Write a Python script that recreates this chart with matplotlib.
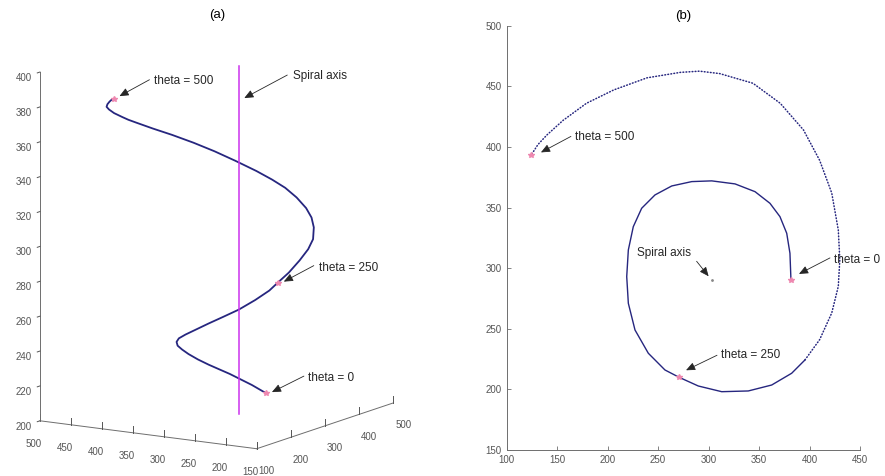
import matplotlib
matplotlib.use("Agg")
import matplotlib.pyplot as plt
from matplotlib.patches import FancyArrowPatch
from mpl_toolkits.mplot3d import proj3d

plt.rcParams["font.family"] = ["Liberation Sans", "DejaVu Sans"]

# spiral points, from theta = 0 to theta = 500
SPIRAL_X = [381.6, 380.6, 377.4, 370.7, 360.8, 346, 326.2, 303.1, 283.3, 263.5,
            246.9, 233.7, 225.4, 220.5, 218.9, 220.5, 227.1, 240.3, 256.8, 270.7,
            289.8, 313, 339.3, 362.5, 382.3, 395.5, 410, 422, 428.5, 430,
            428.5, 422, 410, 394, 371, 344, 311, 291, 272, 239,
            206, 179, 156, 140, 131, 124]
SPIRAL_Y = [290.3, 312.3, 328.8, 342.5, 353.5, 363.1, 369.5, 372, 371.4, 367.8,
            360.4, 349.4, 334.2, 315, 293, 271, 249, 229.8, 216, 210,
            202.8, 198.1, 198.7, 203.6, 213.3, 224.3, 241, 263, 285, 307,
            331.5, 362, 389, 414, 436, 452.5, 460.5, 462.5, 461.5, 457,
            447, 436, 422, 410, 402, 393]
SPIRAL_Z = [207, 210.7, 213.4, 216.3, 219, 222.3, 226.3, 230.8, 234.7, 238.4,
            242, 245.4, 248.8, 252.8, 257.5, 262.1, 266.9, 272.4, 277.4, 281.3,
            286.1, 291.8, 296.5, 300.5, 305.5, 309.8, 313.5, 317.8, 321.9, 325.5,
            329.4, 334.3, 339.3, 344.1, 349.1, 353.8, 358.9, 361.8, 364.6, 369.3,
            374, 377.8, 381.4, 384.4, 386.4, 388]
MARKED = [0, 19, 45]  # theta = 0, 250, 500

AXIS_X = [303, 303]
AXIS_Y = [290, 290]
AXIS_Z = [200, 400]

X3_TICKS = [100, 200, 300, 400, 500]
Y3_TICKS = [150, 200, 250, 300, 350, 400, 450, 500]
Z3_TICKS = [200, 220, 240, 260, 280, 300, 320, 340, 360, 380, 400]
XB_TICKS = [100, 150, 200, 250, 300, 350, 400, 450]
YB_TICKS = [150, 200, 250, 300, 350, 400, 450, 500]

DOTTED_FROM = 25
NAVY = "#26267f"
MAGENTA = "#cc33ee"
PINK = "#ee88b0"
GREY = "#6e6e6e"
W, H = 885, 476


def pointer(fig, anchor, head, tail, label, text_at, ha="left"):
    ax0, ay0 = anchor
    fig.add_artist(FancyArrowPatch(
        (ax0 + tail[0], ay0 + tail[1]), (ax0 + head[0], ay0 + head[1]),
        transform=None, arrowstyle="-|>,head_length=5.5,head_width=2.4",
        color="#262626", lw=0.6, shrinkA=0, shrinkB=0))
    fig.text((ax0 + text_at[0]) / W, (ay0 + text_at[1]) / H, label, fontsize=8.5,
             color="#262626", ha=ha, va="center")


fig = plt.figure(figsize=(W / 100, H / 100), dpi=100)

# (a) 3-D view
ax = fig.add_axes([-0.0223, -0.002, 0.52, 0.98], projection="3d")
ax.set_proj_type("ortho")
ax.view_init(elev=12, azim=211.8)
ax.set_box_aspect((260, 256, 358), zoom=1.074)
ax.plot(SPIRAL_X, SPIRAL_Y, SPIRAL_Z, color=NAVY, lw=1.3)
ax.plot(AXIS_X, AXIS_Y, AXIS_Z, color=MAGENTA, lw=1.1)
ax.plot([SPIRAL_X[i] for i in MARKED], [SPIRAL_Y[i] for i in MARKED],
        [SPIRAL_Z[i] for i in MARKED], ls="none", marker="*", ms=4, color=PINK)
ax.set_xlim(100, 500, view_margin=0)
ax.set_ylim(150, 500, view_margin=0)
ax.set_zlim(200, 400, view_margin=0)
ax.set_xticks(X3_TICKS)
ax.set_yticks(Y3_TICKS)
ax.set_zticks(Z3_TICKS)
ax.grid(False)
for axis in (ax.xaxis, ax.yaxis, ax.zaxis):
    axis.set_pane_color((1, 1, 1, 0))
    axis.line.set_color(GREY)
    axis.line.set_linewidth(0.7)
    axis._axinfo["tick"]["color"] = GREY
    axis._axinfo["tick"]["linewidth"] = {True: 0.7, False: 0.5}
    axis._axinfo["tick"]["inward_factor"] = 0.25
    axis._axinfo["tick"]["outward_factor"] = 0.0
# MATLAB-like ticks: upright on the floor axes
ax.xaxis._get_tickdir = lambda position: 2
ax.yaxis._get_tickdir = lambda position: 2
ax.tick_params(labelsize=7, colors="#555555", pad=0)
fig.text(217 / W, 1 - 15 / H, "(a)", fontsize=9.5, ha="center", va="center")

# (b) top view
bx = fig.add_axes([506.7 / W, 26 / H, 353.3 / W, 424.3 / H])
bx.plot(SPIRAL_X[:DOTTED_FROM + 1], SPIRAL_Y[:DOTTED_FROM + 1], color=NAVY, lw=1.0)
bx.plot(SPIRAL_X[DOTTED_FROM:], SPIRAL_Y[DOTTED_FROM:], color=NAVY, lw=1.1,
        linestyle=(0, (0.5, 1.5)), dash_capstyle="round")
bx.plot(AXIS_X[:1], AXIS_Y[:1], ls="none", marker=".", ms=2, color="#888888")
bx.plot([SPIRAL_X[i] for i in MARKED], [SPIRAL_Y[i] for i in MARKED],
        ls="none", marker="*", ms=4, color=PINK)
bx.set_xlim(100, 450)
bx.set_ylim(150, 500)
bx.set_xticks(XB_TICKS)
bx.set_yticks(YB_TICKS)
for side in ("top", "right"):
    bx.spines[side].set_visible(False)
for side in ("left", "bottom"):
    bx.spines[side].set_color(GREY)
    bx.spines[side].set_linewidth(0.7)
bx.tick_params(direction="in", length=3, width=0.6, color=GREY, labelsize=7,
               labelcolor="#555555")
fig.text(683 / W, 1 - 16 / H, "(b)", fontsize=9.5, ha="center", va="center")

fig.canvas.draw()


def anchor3d(x, y, z):
    xs, ys, _ = proj3d.proj_transform(x, y, z, ax.get_proj())
    return ax.transData.transform((xs, ys))


def anchor2d(x, y):
    return bx.transData.transform((x, y))


i0, i250, i500 = MARKED
a0 = anchor3d(SPIRAL_X[i0], SPIRAL_Y[i0], SPIRAL_Z[i0])
a250 = anchor3d(SPIRAL_X[i250], SPIRAL_Y[i250], SPIRAL_Z[i250])
a500 = anchor3d(SPIRAL_X[i500], SPIRAL_Y[i500], SPIRAL_Z[i500])
atop = anchor3d(AXIS_X[1], AXIS_Y[1], AXIS_Z[1])
pointer(fig, a500, (5, 2.6), (35, 19), "theta = 500", (40, 17.6))
pointer(fig, atop, (5, -32.5), (48, -9.5), "Spiral axis", (54, -10.5))
pointer(fig, a250, (6, 1), (36, 17), "theta = 250", (41, 15))
pointer(fig, a0, (6, 1), (38, 17), "theta = 0", (42, 15))

b0 = anchor2d(SPIRAL_X[i0], SPIRAL_Y[i0])
b250 = anchor2d(SPIRAL_X[i250], SPIRAL_Y[i250])
b500 = anchor2d(SPIRAL_X[i500], SPIRAL_Y[i500])
bax = anchor2d(AXIS_X[0], AXIS_Y[0])
pointer(fig, b500, (10, 3), (40, 19), "theta = 500", (44, 18))
pointer(fig, bax, (-3, 4), (-15, 19), "Spiral axis", (-48, 27), ha="center")
pointer(fig, b250, (7, 7), (38, 22), "theta = 250", (42, 22))
pointer(fig, b0, (8, 6), (39, 22), "theta = 0", (43, 20))

fig.savefig("out.png", dpi=100)
